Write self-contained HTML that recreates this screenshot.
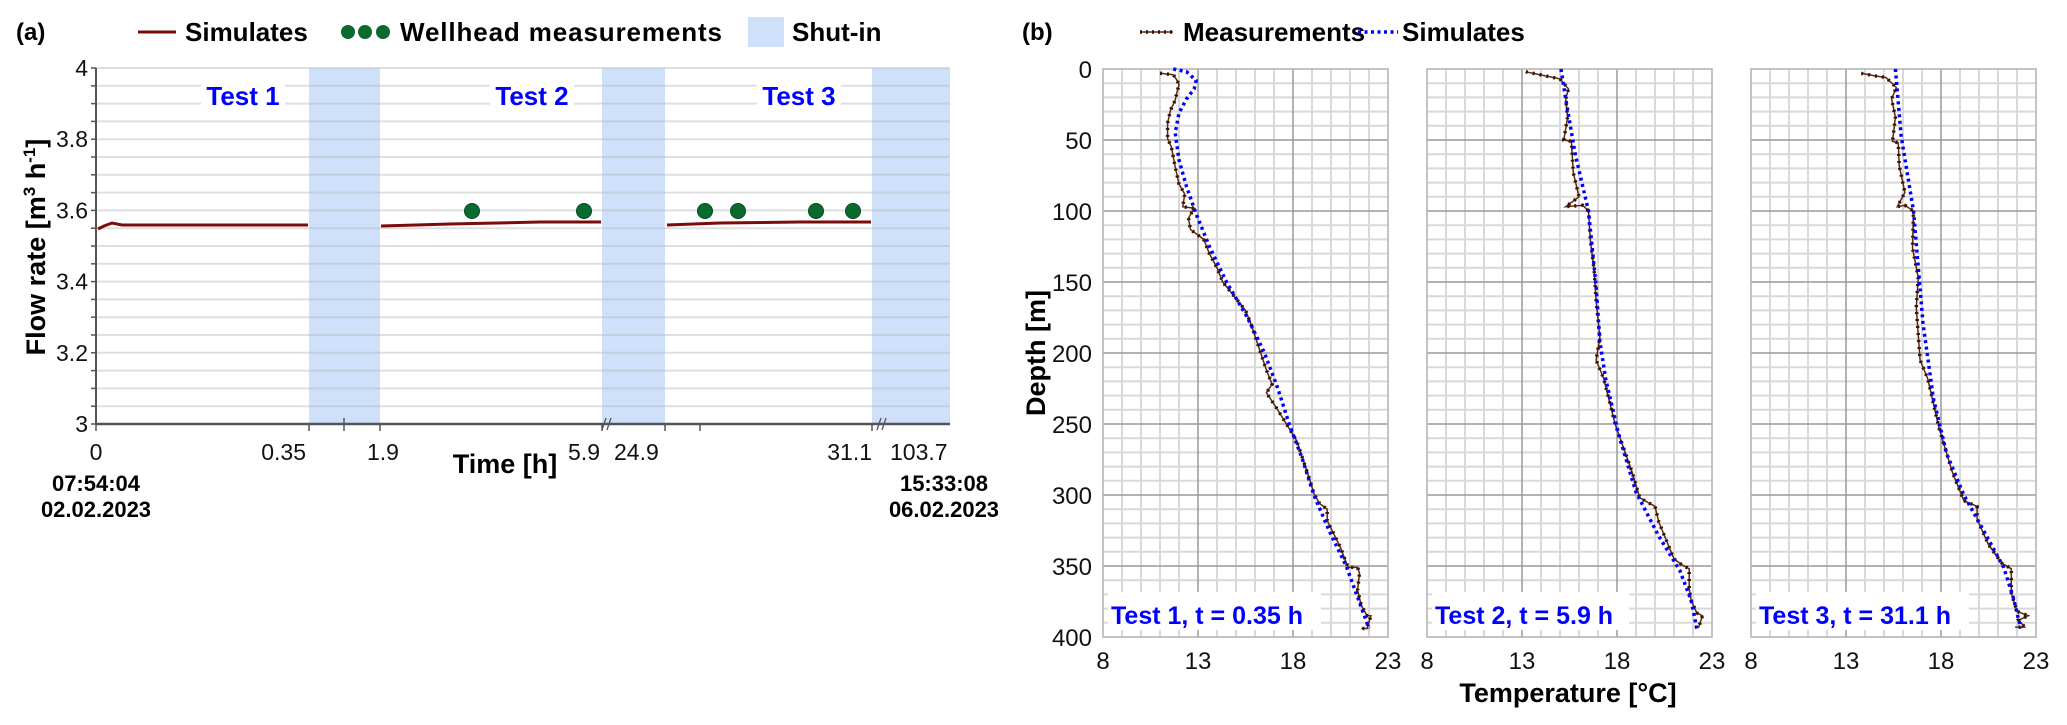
<!DOCTYPE html>
<html><head><meta charset="utf-8">
<style>
html,body{margin:0;padding:0;background:#fff;}
svg{display:block;font-family:"Liberation Sans",Arial,sans-serif;}
</style></head>
<body>
<svg id="s" width="2067" height="725" viewBox="0 0 2067 725" xmlns="http://www.w3.org/2000/svg">
<rect width="2067" height="725" fill="#fff"/>
<g id="g"></g>
</svg>
<script>
const NS="http://www.w3.org/2000/svg";
const g=document.getElementById('g');
function el(t,a,txt){const e=document.createElementNS(NS,t);for(const k in a)e.setAttribute(k,a[k]);if(txt!==undefined)e.textContent=txt;g.appendChild(e);return e;}

// ---------- Panel (a) ----------
const ax0=96, ax1=950, ay0=68, ay1=424;
const fy=v=>ay0+(4-v)*(ay1-ay0);
[[309,380],[602,665],[872,950]].forEach(b=>el('rect',{x:b[0],y:ay0,width:b[1]-b[0],height:ay1-ay0,fill:'#cfe0fb'}));
for(let i=0;i<=20;i++){const v=3+i*0.05;const y=fy(v);if(i>0)el('line',{x1:ax0,x2:ax1,y1:y,y2:y,stroke:'#b8b8b8','stroke-opacity':0.45,'stroke-width':2});
 el('line',{x1:ax0-5,x2:ax0,y1:y,y2:y,stroke:'#555','stroke-width':1.5});}
el('line',{x1:ax0,x2:ax0,y1:ay0,y2:ay1,stroke:'#555','stroke-width':2});
el('line',{x1:ax0,x2:ax1,y1:ay1,y2:ay1,stroke:'#555','stroke-width':2.5});
[96,309,344,380,602,665,700,872].forEach(x=>el('line',{x1:x,x2:x,y1:ay1-(x==344?6:0),y2:ay1+7,stroke:'#555','stroke-width':1.5}));
[605,880].forEach(x=>{el('line',{x1:x-3,y1:ay1+6,x2:x+1,y2:ay1-6,stroke:'#555','stroke-width':1.3});el('line',{x1:x+2,y1:ay1+6,x2:x+6,y2:ay1-6,stroke:'#555','stroke-width':1.3});});
for(let i=0;i<=5;i++){const v=3+i*0.2;el('text',{x:88,y:fy(v)+8,'font-size':23,'text-anchor':'end',fill:'#111'},(i==0||i==5)?String(v.toFixed(0)):v.toFixed(1));}
[[96,'0','middle'],[306,'0.35','end'],[367,'1.9','start'],[600,'5.9','end'],[614,'24.9','start'],[872,'31.1','end'],[890,'103.7','start']].forEach(t=>el('text',{x:t[0],y:460,'font-size':23,'text-anchor':t[2],fill:'#111'},t[1]));
el('text',{x:96,y:491,'font-size':22,'font-weight':'bold','text-anchor':'middle'},'07:54:04');
el('text',{x:96,y:517,'font-size':22,'font-weight':'bold','text-anchor':'middle'},'02.02.2023');
el('text',{x:944,y:491,'font-size':22,'font-weight':'bold','text-anchor':'middle'},'15:33:08');
el('text',{x:944,y:517,'font-size':22,'font-weight':'bold','text-anchor':'middle'},'06.02.2023');
el('text',{x:505,y:473,'font-size':27,'font-weight':'bold','text-anchor':'middle'},'Time [h]');
const yl=el('text',{x:0,y:0,'font-size':27,'font-weight':'bold','text-anchor':'middle',transform:'translate(45,247) rotate(-90)'});
yl.innerHTML='Flow rate [m<tspan dy="-10" font-size="17">3</tspan><tspan dy="10"> h</tspan><tspan dy="-10" font-size="17">-1</tspan><tspan dy="10">]</tspan>';
[[243,'Test 1'],[532,'Test 2'],[799,'Test 3']].forEach(t=>{el('rect',{x:t[0]-42,y:80,width:84,height:30,fill:'#fff'});el('text',{x:t[0],y:105,'font-size':26,'font-weight':'bold','text-anchor':'middle',fill:'#0000ff'},t[1]);});
el('polyline',{points:'98,229 104,226 112,223 122,225 150,225 308,225',fill:'none',stroke:'#7a0c0c','stroke-width':3});
el('polyline',{points:'381,226 450,224 540,222 601,222',fill:'none',stroke:'#7a0c0c','stroke-width':3});
el('polyline',{points:'667,225 720,223 800,222 871,222',fill:'none',stroke:'#7a0c0c','stroke-width':3});
[472,584,705,738,816,853].forEach(x=>el('circle',{cx:x,cy:211,r:7.5,fill:'#0b6b2e',stroke:'#064a1f','stroke-width':1}));
el('text',{x:16,y:40,'font-size':24,'font-weight':'bold'},'(a)');
el('line',{x1:138,x2:176,y1:32,y2:32,stroke:'#7a0c0c','stroke-width':3});
el('text',{x:185,y:41,'font-size':26,'font-weight':'bold'},'Simulates');
[348,365,383].forEach(x=>el('circle',{cx:x,cy:32,r:7,fill:'#0b6b2e'}));
el('text',{x:400,y:41,'font-size':26,'font-weight':'bold',textLength:322},'Wellhead measurements');
el('rect',{x:748,y:17,width:36,height:30,fill:'#cfe0fb'});
el('text',{x:792,y:41,'font-size':26,'font-weight':'bold'},'Shut-in');

// ---------- Panel (b) ----------
const offs=[0,324,648];
const L0=1103,W=285,T0=69,H=568;
const panels=[
 {lab:'Test 1, t = 0.35 h',
  m:[[11,3],[11.7,4],[11.9,8],[12,11],[11.9,16],[11.8,22],[11.55,29],[11.4,38],[11.4,49],[11.6,55],[11.8,69],[12,81],[12.3,88],[12.2,97],[12.8,98],[12.5,105],[12.6,113],[13.3,120],[13.6,130],[14,140],[14.3,150],[14.9,160],[15.5,170],[15.8,180],[16.3,200],[16.6,212],[16.9,222],[16.6,228],[17.1,238],[17.7,251],[18.2,262],[18.5,274],[18.9,290],[19.1,299],[19.4,306],[19.8,310],[19.8,318],[20.5,337],[20.7,344],[20.9,351],[21.4,351],[21.5,355],[21.4,367],[21.6,378],[21.9,385],[22.1,385],[21.9,394],[21.6,394]],
  s:[[11.7,0],[12.4,2],[12.9,8],[12.8,14],[12.4,21],[12,31],[11.8,45],[12,64],[12.4,83],[12.9,102],[13.6,125],[14.5,150],[15.6,175],[16.5,200],[17.2,225],[17.8,250],[18.5,275],[19.1,300],[19.9,325],[20.8,350],[21.4,372],[22,394]]},
 {lab:'Test 2, t = 5.9 h',
  m:[[13.2,2],[14.3,5],[15,7],[15.45,14],[15.3,21],[15.4,34],[15.2,50],[15.6,51],[15.7,73],[16,90],[15.3,97],[16.2,96],[16.5,100],[16.6,121],[16.8,142],[16.9,163],[17.1,189],[16.9,205],[17.3,218],[17.9,250],[18.8,284],[19.2,302],[20,308],[20.2,319],[21,345],[21.4,349],[21.8,352],[21.8,366],[21.9,374],[22.2,383],[22.5,385],[22.3,393],[22.1,393]],
  s:[[15.05,0],[15.3,21],[15.8,60],[16.5,100],[16.9,153],[17.1,192],[17.4,218],[18.1,258],[19,298],[20.2,329],[21.3,353],[21.9,374],[22.2,394]]},
 {lab:'Test 3, t = 31.1 h',
  m:[[13.8,3],[14.6,5],[15.1,6],[15.65,13],[15.4,21],[15.6,34],[15.45,51],[15.75,52],[15.8,68],[16.1,87],[15.7,97],[16.1,96],[16.55,100],[16.5,126],[16.8,147],[16.7,168],[16.9,205],[17.3,218],[17.9,253],[18.6,284],[19.2,304],[19.9,308],[19.9,317],[20.5,335],[21.2,348],[21.7,352],[21.7,369],[22,382],[22.6,385],[22.1,388],[22.4,393],[21.9,393]],
  s:[[15.6,0],[15.9,47],[16.55,100],[17.05,179],[17.6,232],[18.3,271],[19.2,300],[20.2,324],[21.3,351],[21.8,372],[22.2,394]]}
];
panels.forEach((p,i)=>{
 const x0=L0+offs[i];
 const X=t=>x0+(t-8)*W/15, Y=d=>T0+d*H/400;
 for(let t=9;t<23;t++){if((t-8)%5==0)continue;el('line',{x1:X(t),x2:X(t),y1:T0,y2:T0+H,stroke:'#d9d9d9','stroke-width':2});}
 for(let d=10;d<400;d+=10){if(d%50==0)continue;el('line',{x1:x0,x2:x0+W,y1:Y(d),y2:Y(d),stroke:'#d9d9d9','stroke-width':2});}
 [13,18].forEach(t=>el('line',{x1:X(t),x2:X(t),y1:T0,y2:T0+H,stroke:'#9a9a9a','stroke-width':1.5}));
 for(let d=50;d<400;d+=50)el('line',{x1:x0,x2:x0+W,y1:Y(d),y2:Y(d),stroke:'#9a9a9a','stroke-width':1.5});
 el('rect',{x:x0,y:T0,width:W,height:H,fill:'none',stroke:'#b0b0b0','stroke-width':1.5});
 [8,13,18,23].forEach(t=>el('text',{x:X(t),y:669,'font-size':24,'text-anchor':'middle',fill:'#111'},String(t)));
 const ms=p.m.map(q=>X(q[0]).toFixed(1)+','+Y(q[1]).toFixed(1)).join(' ');
 const ss=p.s.map(q=>X(q[0]).toFixed(1)+','+Y(q[1]).toFixed(1)).join(' ');
 el('polyline',{points:ms,fill:'none',stroke:'#5a2a10','stroke-width':1.5});
 el('polyline',{points:ms,fill:'none',stroke:'#3a1200','stroke-width':3.5,'stroke-dasharray':'2 5'});
 el('polyline',{points:ss,fill:'none',stroke:'#0000ff','stroke-width':3.5,'stroke-dasharray':'3 3.5'});
 el('rect',{x:x0+5,y:T0+H-45,width:i==0?213:(i==1?197:213),height:38,fill:'#fff'});
 el('text',{x:x0+8,y:T0+H-13,'font-size':25,'font-weight':'bold',fill:'#0000ff'},p.lab);
});
for(let d=0;d<=400;d+=50)el('text',{x:1092,y:T0+d*H/400+9,'font-size':24,'text-anchor':'end',fill:'#111'},String(d));
el('text',{x:0,y:0,'font-size':27,'font-weight':'bold','text-anchor':'middle',transform:'translate(1045,353) rotate(-90)'},'Depth [m]');
el('text',{x:1568,y:702,'font-size':27,'font-weight':'bold','text-anchor':'middle'},'Temperature [°C]');
el('text',{x:1022,y:40,'font-size':24,'font-weight':'bold'},'(b)');
el('line',{x1:1140,x2:1173,y1:32,y2:32,stroke:'#5a2a10','stroke-width':1.5});
el('line',{x1:1140,x2:1173,y1:32,y2:32,stroke:'#3a1200','stroke-width':3.5,'stroke-dasharray':'2 4'});
el('text',{x:1183,y:41,'font-size':26,'font-weight':'bold'},'Measurements');
el('line',{x1:1358,x2:1398,y1:32,y2:32,stroke:'#0000ff','stroke-width':3.5,'stroke-dasharray':'3 3.5'});
el('text',{x:1402,y:41,'font-size':26,'font-weight':'bold'},'Simulates');
</script>
</body></html>
